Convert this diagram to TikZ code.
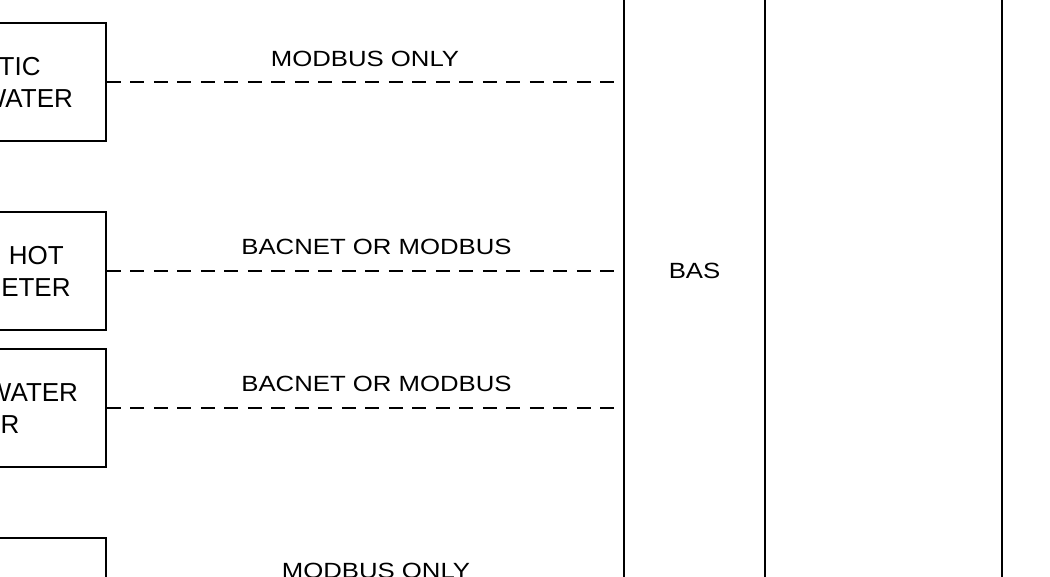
\documentclass[tikz,border=0pt]{standalone}
\usepackage{fontspec}
\setmainfont{Liberation Sans}
\newfontfamily\labfont[FakeStretch=1.17]{Liberation Sans}
\begin{document}
\begin{tikzpicture}[x=1pt,y=-1pt,
  dev/.style={draw, line width=1.8pt, minimum height=118pt,
    align=center, inner sep=0pt, font=\fontsize{26}{32}\selectfont},
  lab/.style={font=\labfont\fontsize{22}{26}\selectfont, anchor=base, inner sep=0pt},
  link/.style={line width=1.8pt, dash pattern=on 14pt off 9.5pt, shorten >=9pt},
  col/.style={draw, line width=1.8pt, inner sep=0pt, minimum height=900pt,
    font=\labfont\fontsize{22}{26}\selectfont}]
\useasboundingbox (0,0) rectangle (1050,576);
\clip (0,0) rectangle (1050,576);
% devices (right edge at x=106)
\node[dev, minimum width=268pt] (d1) at (-28,82) {DOMESTIC\\HEATED WATER};
\node[dev, minimum width=260pt] (d2) at (-24,271) {HEATING HOT\\WATER METER};
\node[dev, minimum width=264pt] (d3) at (-26,408) {CHILLED WATER\\METER};
\node[dev, minimum width=264pt] (d4) at (-26,597) {};
% BAS and neighbour column
\node[col, minimum width=141pt] (bas) at (694.5,271) {BAS};
\node[col, minimum width=237pt] (rc) at (883.5,271) {};
% links
\draw[link] (d1.east) -- (d1.east -| bas.west);
\draw[link] (d2.east) -- (d2.east -| bas.west);
\draw[link] (d3.east) -- (d3.east -| bas.west);
\draw[link] (d4.east) -- (d4.east -| bas.west);
% link labels
\node[lab] (l1) at (365,66) {MODBUS ONLY};
\node[lab] (l2) at (376.5,254) {BACNET OR MODBUS};
\node[lab] (l3) at (376.5,391) {BACNET OR MODBUS};
\node[lab] (l4) at (376,578) {MODBUS ONLY};
\end{tikzpicture}
\end{document}
